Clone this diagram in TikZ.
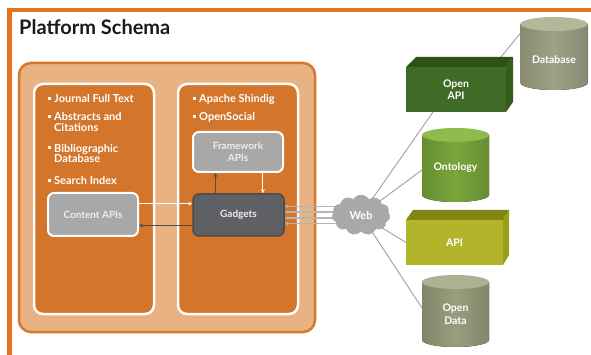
\documentclass[tikz,border=0pt]{standalone}
\usepackage{fontspec}
\setmainfont{Lato}
\usetikzlibrary{calc,shapes.symbols,arrows.meta}
\pgfdeclarelayer{bg}
\pgfdeclarelayer{lines}
\pgfsetlayers{bg,lines,main}
\definecolor{frameor}{HTML}{E5731E}
\definecolor{outerfill}{HTML}{E8B283}
\definecolor{outerline}{HTML}{D9782A}
\definecolor{panelor}{HTML}{D3752A}
\definecolor{boxgray}{HTML}{A8A8A8}
\definecolor{boxtext}{HTML}{EDEDED}
\definecolor{gadfill}{HTML}{5E6064}
\definecolor{gadline}{HTML}{4A4C4F}
\definecolor{darkarr}{HTML}{4D4F52}
\definecolor{webline}{HTML}{B5B5B5}
\definecolor{conncol}{HTML}{A0A0A0}
\definecolor{cloudc}{HTML}{A9A9A9}
\definecolor{oapifront}{HTML}{3F6B27}
\definecolor{oapitop}{HTML}{2E5118}
\definecolor{oapiside}{HTML}{345C1E}
\definecolor{apifront}{HTML}{B2B42A}
\definecolor{apitop}{HTML}{848614}
\definecolor{apiside}{HTML}{9A9C1C}
\definecolor{dbc}{HTML}{9FA385}
\definecolor{dbtop}{HTML}{B4B89A}
\definecolor{ontc}{HTML}{7AA53A}
\definecolor{onttop}{HTML}{8FBA4D}
\definecolor{odc}{HTML}{9A9D7C}
\definecolor{odtop}{HTML}{AEB191}
\definecolor{titlec}{HTML}{1A1A1A}
\newcommand{\sqb}{\raisebox{3.3pt}{\rule{3pt}{3pt}}\hspace{3.3pt}}
\newcommand{\drawcyl}[3]{%
  \fill[left color=#2!85!black, right color=#2!85!black, middle color=#2]
    ($(#1.north west)+(0,-7)$) -- ($(#1.south west)+(0,7)$)
    arc[start angle=180,end angle=360,x radius=33.5pt,y radius=7pt]
    -- ($(#1.north east)+(0,-7)$) -- cycle;
  \fill[#3] ($(#1.north)+(0,-7)$) ellipse[x radius=33.5pt, y radius=7pt];
}
\begin{document}
\begin{tikzpicture}[x=1pt,y=1pt,
  btext/.style={anchor=base west, inner sep=0, text=white, font=\bfseries\fontsize{11}{13}\selectfont},
  panel/.style={draw=white, line width=2.5pt, fill=panelor, rounded corners=9pt, minimum width=120pt, minimum height=230pt, inner sep=0},
  graybox/.style={fill=boxgray, draw=white, line width=2pt, rounded corners=6pt, text=boxtext, font=\bfseries\fontsize{10}{11.5}\selectfont, align=center, inner sep=0},
  darkarrow/.style={darkarr, line width=1.2pt, -{Stealth[length=4pt,width=4pt]}},
  whitearrow/.style={white, line width=1.2pt, -{Stealth[length=4pt,width=4pt]}},
  weblines/.style={webline, line width=1.3pt, {Stealth[length=3.5pt,width=3.5pt]}-},
  conn/.style={conncol, line width=0.9pt},
  front/.style={inner sep=0, outer sep=0, text=white, align=center, font=\bfseries\fontsize{10.5}{12.5}\selectfont},
  cylnode/.style={inner sep=0, outer sep=0, minimum width=67pt},
  cyltext/.style={text=white, align=center, font=\bfseries\fontsize{10.5}{13}\selectfont, inner sep=0}
]
\useasboundingbox (0,0) rectangle (591,-355);
\begin{pgfonlayer}{bg}
\fill[white] (0,0) rectangle (591,-355);
\end{pgfonlayer}
\draw[frameor, line width=4.5pt] (591,-10) -- (9.5,-10) -- (9.5,-355);

\node[anchor=base west, inner sep=0, font=\bfseries\fontsize{20}{22}\selectfont, text=titlec] (title) at (19,-35) {Platform Schema};

\begin{pgfonlayer}{bg}
\node[fill=outerfill, draw=outerline, line width=2.5pt, rounded corners=12pt, minimum width=296pt, minimum height=269pt, inner sep=0] (outer) at (167,-197.5) {};
\node[panel] (leftpanel) at (94,-199) {};
\node[panel] (rightpanel) at (238,-199) {};
\end{pgfonlayer}

% left bullets
\node[btext] (b1) at (47.7,-103) {\sqb Journal Full Text};
\node[btext] (b2) at (47.7,-121) {\sqb Abstracts and};
\node[btext] (b2b) at (54,-131.5) {Citations};
\node[btext] (b3) at (47.7,-152.5) {\sqb Bibliographic};
\node[btext] (b3b) at (54,-163) {Database};
\node[btext] (b4) at (47.7,-185) {\sqb Search Index};
% right bullets
\node[btext] (b5) at (192.7,-103) {\sqb Apache Shindig};
\node[btext] (b6) at (192.7,-121) {\sqb OpenSocial};

\node[graybox, minimum width=90pt, minimum height=43pt] (content) at (93,-214.5) {Content APIs};
\node[graybox, minimum width=90pt, minimum height=40pt] (framework) at (238,-152) {Framework\\APIs};
\node[fill=gadfill, draw=gadline, line width=1.5pt, rounded corners=6pt, minimum width=91pt, minimum height=42pt, text=boxtext, font=\bfseries\fontsize{10}{11.5}\selectfont, inner sep=0] (gadgets) at (238.5,-215) {Gadgets};

\draw[whitearrow] ($(content.north east)!0.26!(content.south east)$) coordinate (c1) -- (c1 -| gadgets.west);
\draw[darkarrow] ($(gadgets.north west)!0.74!(gadgets.south west)$) coordinate (g1) -- (g1 -| content.east);
\draw[darkarrow] ($(gadgets.north west)!0.25!(gadgets.north east)$) coordinate (g2) -- (g2 |- framework.south);
\draw[whitearrow] ($(framework.south west)!0.77!(framework.south east)$) coordinate (f1) -- (f1 |- gadgets.north);

% web cloud
\node[cloud, cloud puffs=11, cloud puff arc=120, aspect=1.45, fill=cloudc, draw=cloudc, minimum width=58pt, minimum height=40pt, text=white, font=\bfseries\fontsize{11}{12}\selectfont, inner sep=0] (web) at (361,-215) {Web};

% 3D boxes
\node[front, fill=oapifront, minimum width=100pt, minimum height=45pt] (openapi) at (456,-89.5) {Open\\API};
\fill[oapitop] (openapi.north west) -- ++(10,10) -- ($(openapi.north east)+(7,10)$) -- (openapi.north east) -- cycle;
\fill[oapiside] (openapi.north east) -- ++(7,10) -- ($(openapi.south east)+(7,10)$) -- (openapi.south east) -- cycle;

\node[front, fill=apifront, minimum width=97pt, minimum height=45pt] (api) at (454.5,-242.5) {API};
\fill[apitop] (api.north west) -- ++(7,10) -- ($(api.north east)+(6,10)$) -- (api.north east) -- cycle;
\fill[apiside] (api.north east) -- ++(6,10) -- ($(api.south east)+(6,10)$) -- (api.south east) -- cycle;

% cylinders
\node[cylnode, minimum height=73pt] (database) at (554,-53.5) {};
\drawcyl{database}{dbc}{dbtop}
\node[cyltext] (databasetext) at (554,-60) {Database};

\node[cylnode, minimum height=74pt] (ontology) at (455.5,-165) {};
\drawcyl{ontology}{ontc}{onttop}
\node[cyltext] (ontologytext) at (455.5,-168) {Ontology};

\node[cylnode, minimum height=72pt] (opendata) at (455.5,-311) {};
\drawcyl{opendata}{odc}{odtop}
\node[cyltext] (opendatatext) at (455.5,-314) {Open\\Data};

\begin{pgfonlayer}{lines}
\foreach \f in {0.3,0.43,0.57,0.7}{
  \draw[weblines] ($(gadgets.north east)!\f!(gadgets.south east)$) coordinate (w) -- (w -| web.center);
}
\draw[conn] (web.center) -- ($(openapi.south west)!0.27!(openapi.south east)$);
\draw[conn] ($(openapi.north west)!0.87!(openapi.north east)+(8,10)$) -- ($(database.north west)+(0,-16)$);
\draw[conn] (web.center) -- ($(ontology.west)+(0,-5)$);
\draw[conn] (web.center) -- (api.west);
\draw[conn] (web.center) -- ($(opendata.west)+(0,3)$);
\end{pgfonlayer}
\end{tikzpicture}
\end{document}
